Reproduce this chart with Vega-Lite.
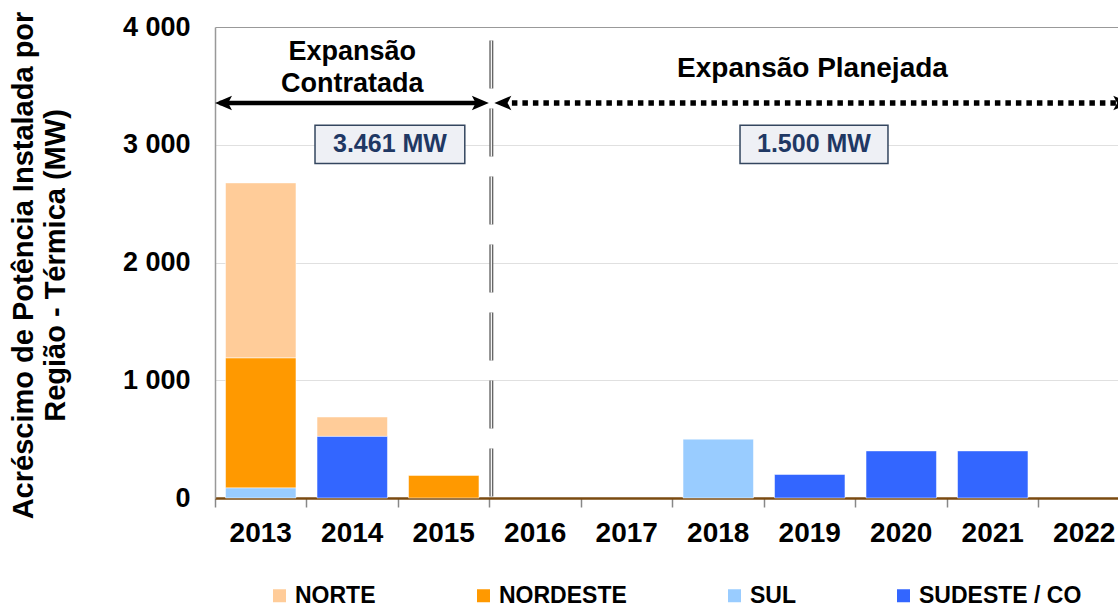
{
  "$schema": "https://vega.github.io/schema/vega-lite/v6.json",
  "width": 903,
  "height": 471,
  "autosize": {"type": "none"},
  "padding": {"left": 215, "top": 27, "right": 0, "bottom": 109},
  "background": "white",
  "config": {"view": {"stroke": null}, "font": "Liberation Sans"},
  "layer": [
    {
      "data": {
        "values": [
          {"ano": "2013", "regiao": "NORTE", "mw": 1487},
          {"ano": "2013", "regiao": "NORDESTE", "mw": 1104},
          {"ano": "2013", "regiao": "SUL", "mw": 85},
          {"ano": "2014", "regiao": "NORTE", "mw": 165},
          {"ano": "2014", "regiao": "SUDESTE / CO", "mw": 523},
          {"ano": "2015", "regiao": "NORDESTE", "mw": 192},
          {"ano": "2018", "regiao": "SUL", "mw": 500},
          {"ano": "2019", "regiao": "SUDESTE / CO", "mw": 200},
          {"ano": "2020", "regiao": "SUDESTE / CO", "mw": 400},
          {"ano": "2021", "regiao": "SUDESTE / CO", "mw": 400}
        ]
      },
      "transform": [
        {"calculate": "indexof(['SUL','SUDESTE / CO','NORDESTE','NORTE'], datum.regiao)", "as": "ordem"}
      ],
      "mark": {"type": "bar", "width": {"band": 0.77}, "stroke": "#ffffff", "strokeOpacity": 0.5, "strokeWidth": 1},
      "encoding": {
        "x": {
          "field": "ano",
          "type": "nominal",
          "scale": {
            "domain": ["2013", "2014", "2015", "2016", "2017", "2018", "2019", "2020", "2021", "2022"],
            "range": [0, 915],
            "paddingInner": 0,
            "paddingOuter": 0
          },
          "axis": {
            "title": null,
            "labelAngle": 0,
            "labelFont": "Liberation Sans",
            "labelFontSize": 28,
            "labelFontWeight": "bold",
            "labelColor": "black",
            "labelPadding": 12,
            "bandPosition": 0,
            "tickSize": 9,
            "tickColor": "#888888",
            "tickWidth": 1.5,
            "domainColor": "#7a4a10",
            "domainWidth": 2.5,
            "grid": false
          }
        },
        "y": {
          "field": "mw",
          "type": "quantitative",
          "stack": "zero",
          "scale": {"domain": [0, 4000], "nice": false},
          "axis": {
            "title": ["Acréscimo de Potência Instalada por", "Região - Térmica (MW)"],
            "titleFont": "Liberation Sans",
            "titleFontSize": 29,
            "titleFontWeight": "bold",
            "titleColor": "black",
            "titleX": -192,
            "titleY": 238,
            "titleAngle": -90,
            "titleAlign": "center",
            "titleBaseline": "middle",
            "titleLineHeight": 32,
            "values": [0, 1000, 2000, 3000, 4000],
            "labelExpr": "replace(format(datum.value, ','), ',', ' ')",
            "labelFont": "Liberation Sans",
            "labelFontSize": 27,
            "labelFontWeight": "bold",
            "labelColor": "black",
            "labelPadding": 25,
            "ticks": false,
            "domainColor": "#999999",
            "domainWidth": 1.5,
            "grid": true,
            "gridColor": {"condition": {"test": "datum.value == 4000", "value": "#999999"}, "value": "#e0e0e0"}
          }
        },
        "color": {
          "field": "regiao",
          "type": "nominal",
          "scale": {
            "domain": ["NORTE", "NORDESTE", "SUL", "SUDESTE / CO"],
            "range": ["#FFCC99", "#FF9900", "#99CCFF", "#3366FF"]
          },
          "legend": {
            "title": null,
            "orient": "none",
            "legendX": 53,
            "legendY": 557,
            "direction": "horizontal",
            "columnPadding": 96,
            "symbolType": "square",
            "symbolSize": 169,
            "symbolStrokeWidth": 0,
            "labelFont": "Liberation Sans",
            "labelFontSize": 23,
            "labelFontWeight": "bold",
            "labelColor": "black",
            "labelOffset": 4,
            "labelLimit": 0,
            "padding": 0
          }
        },
        "order": {"field": "ordem", "type": "quantitative"}
      }
    },
    {
      "layer": [
        {
          "data": {"values": [{"x": 3.02, "y": 3885, "y2": 0}]},
          "mark": {"type": "rule", "color": "#666666", "strokeWidth": 4, "strokeDash": [48, 20]},
          "encoding": {
            "x": {"field": "x", "type": "quantitative", "scale": {"domain": [0, 10], "range": [0, 915]}, "axis": null},
            "y": {"field": "y", "type": "quantitative"},
            "y2": {"field": "y2"}
          }
        },
        {
          "data": {"values": [{"x": 3.02, "y": 3885, "y2": 0}]},
          "mark": {"type": "rule", "color": "#ffffff", "strokeWidth": 1.2, "strokeDash": [48, 20]},
          "encoding": {
            "x": {"field": "x", "type": "quantitative", "scale": {"domain": [0, 10], "range": [0, 915]}, "axis": null},
            "y": {"field": "y", "type": "quantitative"},
            "y2": {"field": "y2"}
          }
        },
        {
          "data": {"values": [{"x": 0.05, "x2": 2.92, "y": 3355}]},
          "mark": {"type": "rule", "color": "#000000", "strokeWidth": 4.5},
          "encoding": {
            "x": {"field": "x", "type": "quantitative", "scale": {"domain": [0, 10], "range": [0, 915]}, "axis": null},
            "x2": {"field": "x2"},
            "y": {"field": "y", "type": "quantitative"}
          }
        },
        {
          "data": {"values": [{"x": 3.13, "x2": 9.9, "y": 3355}]},
          "mark": {"type": "rule", "color": "#000000", "strokeWidth": 5.5, "strokeDash": [5.5, 5]},
          "encoding": {
            "x": {"field": "x", "type": "quantitative", "scale": {"domain": [0, 10], "range": [0, 915]}, "axis": null},
            "x2": {"field": "x2"},
            "y": {"field": "y", "type": "quantitative"}
          }
        },
        {
          "data": {"values": [{"x": 2.9, "y": 3355}, {"x": 9.91, "y": 3355}]},
          "mark": {"type": "point", "shape": "M 1 0 L -1 -0.85 L -0.55 0 L -1 0.85 Z", "size": 289, "filled": true, "color": "#000000", "opacity": 1},
          "encoding": {
            "x": {"field": "x", "type": "quantitative", "scale": {"domain": [0, 10], "range": [0, 915]}, "axis": null},
            "y": {"field": "y", "type": "quantitative"}
          }
        },
        {
          "data": {"values": [{"x": 0.093, "y": 3355}, {"x": 3.146, "y": 3355}]},
          "mark": {"type": "point", "shape": "M -1 0 L 1 -0.85 L 0.55 0 L 1 0.85 Z", "size": 289, "filled": true, "color": "#000000", "opacity": 1},
          "encoding": {
            "x": {"field": "x", "type": "quantitative", "scale": {"domain": [0, 10], "range": [0, 915]}, "axis": null},
            "y": {"field": "y", "type": "quantitative"}
          }
        },
        {
          "data": {"values": [{"x": 1.5, "y": 3790, "t": "Expansão"}, {"x": 1.5, "y": 3515, "t": "Contratada"}]},
          "mark": {"type": "text", "font": "Liberation Sans", "fontSize": 27, "fontWeight": "bold", "color": "#000000", "baseline": "middle", "align": "center"},
          "encoding": {
            "x": {"field": "x", "type": "quantitative", "scale": {"domain": [0, 10], "range": [0, 915]}, "axis": null},
            "y": {"field": "y", "type": "quantitative"},
            "text": {"field": "t"}
          }
        },
        {
          "data": {"values": [{"x": 6.53, "y": 3640, "t": "Expansão Planejada"}]},
          "mark": {"type": "text", "font": "Liberation Sans", "fontSize": 28, "fontWeight": "bold", "color": "#000000", "baseline": "middle", "align": "center"},
          "encoding": {
            "x": {"field": "x", "type": "quantitative", "scale": {"domain": [0, 10], "range": [0, 915]}, "axis": null},
            "y": {"field": "y", "type": "quantitative"},
            "text": {"field": "t"}
          }
        },
        {
          "data": {"values": [{"x": 1.093, "x2": 2.73, "y": 3165, "y2": 2840}, {"x": 5.738, "x2": 7.355, "y": 3165, "y2": 2840}]},
          "mark": {"type": "rect", "fill": "#eef0f5", "stroke": "#34465f", "strokeWidth": 1.5},
          "encoding": {
            "x": {"field": "x", "type": "quantitative", "scale": {"domain": [0, 10], "range": [0, 915]}, "axis": null},
            "x2": {"field": "x2"},
            "y": {"field": "y", "type": "quantitative"},
            "y2": {"field": "y2"}
          }
        },
        {
          "data": {"values": [{"x": 1.912, "y": 3005, "t": "3.461 MW"}, {"x": 6.546, "y": 3005, "t": "1.500 MW"}]},
          "mark": {"type": "text", "font": "Liberation Sans", "fontSize": 25, "fontWeight": "bold", "color": "#1f3864", "baseline": "middle", "align": "center"},
          "encoding": {
            "x": {"field": "x", "type": "quantitative", "scale": {"domain": [0, 10], "range": [0, 915]}, "axis": null},
            "y": {"field": "y", "type": "quantitative"},
            "text": {"field": "t"}
          }
        }
      ]
    }
  ],
  "resolve": {"scale": {"x": "independent"}, "axis": {"x": "independent"}}
}
